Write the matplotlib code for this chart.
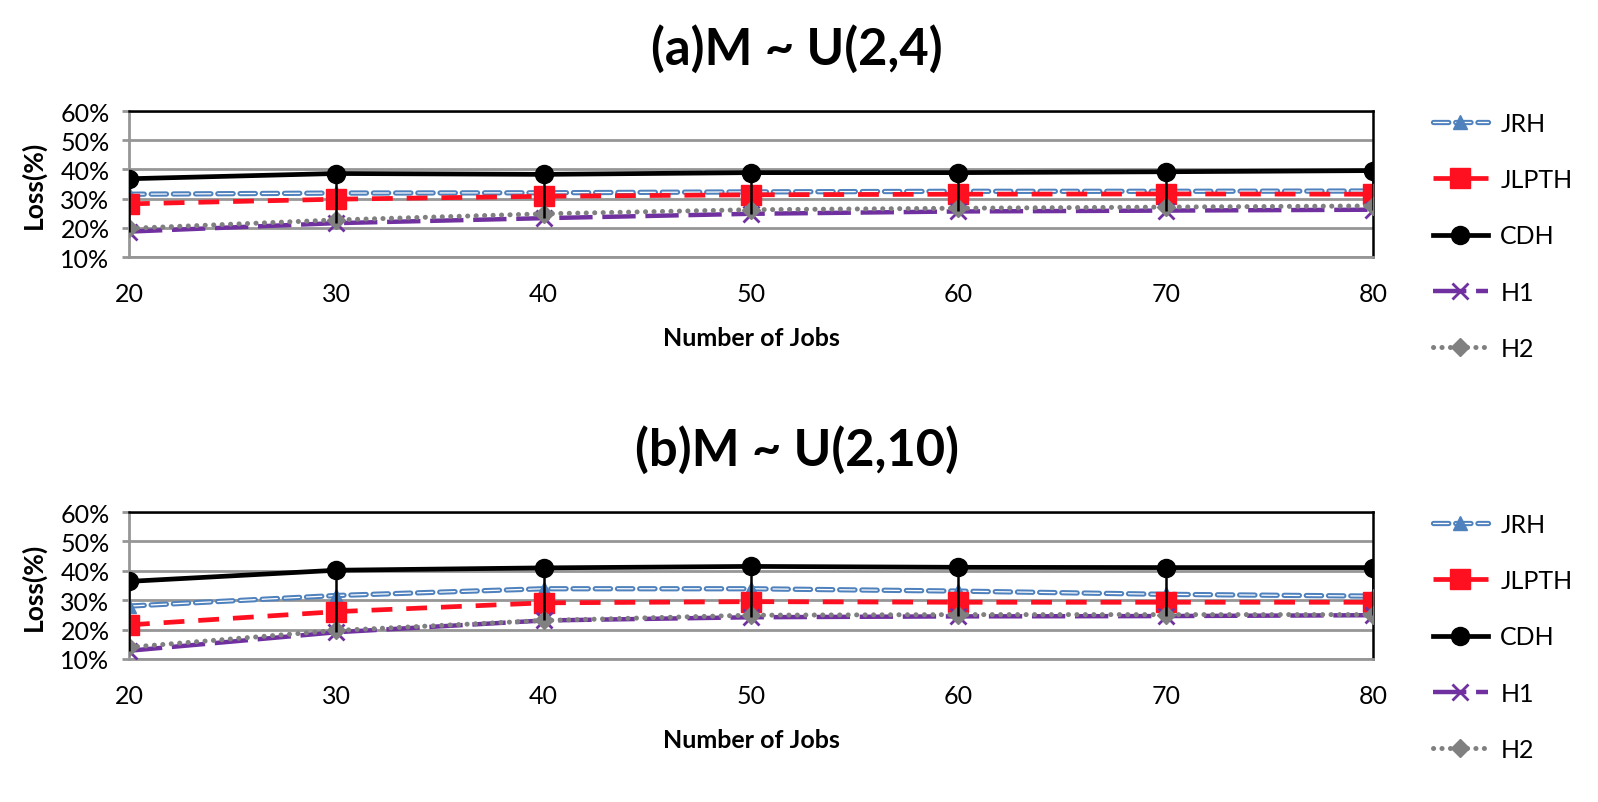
import numpy as np
import matplotlib
matplotlib.use('Agg')
import matplotlib.pyplot as plt
from matplotlib.legend_handler import HandlerTuple

plt.rcParams['font.family'] = ['Lato', 'DejaVu Sans']
plt.rcParams['lines.scale_dashes'] = False

# data (loss in %)
jobs = [20, 30, 40, 50, 60, 70, 80]
names = ['JRH', 'JLPTH', 'CDH', 'H1', 'H2']

a_jrh = [31.5, 31.9, 32.0, 32.3, 32.5, 32.5, 32.6]
a_jlpth = [28.2, 29.8, 30.8, 31.3, 31.5, 31.6, 31.5]
a_cdh = [36.8, 38.6, 38.3, 38.9, 38.9, 39.2, 39.6]
a_h1 = [18.7, 21.6, 23.3, 24.8, 25.6, 25.9, 26.2]
a_h2 = [19.8, 22.7, 24.8, 26.2, 26.7, 27.1, 27.5]

b_jrh = [28.0, 31.6, 33.9, 33.9, 33.1, 32.0, 31.4]
b_jlpth = [21.6, 26.1, 29.1, 29.5, 29.3, 29.3, 29.3]
b_cdh = [36.4, 40.2, 41.0, 41.5, 41.2, 41.1, 41.1]
b_h1 = [12.8, 19.1, 23.1, 24.2, 24.5, 24.6, 24.9]
b_h2 = [14.0, 19.7, 23.1, 24.9, 25.1, 25.1, 25.1]

yticks = [10, 20, 30, 40, 50, 60]

BLUE = '#4F81BD'
RED = '#FF1020'
PURPLE = '#7030A0'
GRAY = '#808080'
GRID = '#969696'


def draw_panel(ax, title, jrh, jlpth, cdh, h1, h2):
    x = np.array(jobs)
    # JRH: blue dashed line with a thin white core
    l1a, = ax.plot(x, jrh, color=BLUE, lw=3.8, dashes=(11, 5), dash_capstyle='round', zorder=3)
    l1b, = ax.plot(x, jrh, color='white', lw=0.9, dashes=(11, 5), dash_capstyle='round', zorder=3.1)
    l1c, = ax.plot(x, jrh, ls='none', marker='^', ms=10, color=BLUE, zorder=3.2)
    l2, = ax.plot(x, jlpth, color=RED, lw=3.4, dashes=(15, 10), marker='s', ms=14,
                  mec=RED, zorder=4)
    l3, = ax.plot(x, cdh, color='black', lw=3.4, marker='o', ms=13, zorder=5)
    l4, = ax.plot(x, h1, color=PURPLE, lw=3.2, dashes=(24, 7), marker='x', ms=11,
                  mew=2, zorder=6)
    l5, = ax.plot(x, h2, color=GRAY, lw=3.6, dashes=(0.1, 6), dash_capstyle='round',
                  marker='D', ms=9, zorder=7)

    # high-low lines
    allv = np.array([jrh, jlpth, cdh, h1, h2])
    ax.vlines(x, allv.min(axis=0), allv.max(axis=0), color='black', lw=1.8, zorder=8)

    ax.set_xlim(20, 80)
    ax.set_ylim(10, 60)
    ax.set_xticks(jobs)
    ax.set_yticks(yticks)
    ax.set_yticklabels(['%d%%' % v for v in yticks])
    ax.grid(axis='y', color=GRID, lw=2)
    ax.set_axisbelow(True)
    ax.tick_params(axis='y', length=5, width=2, color=GRID, pad=9, labelsize=18)
    ax.tick_params(axis='x', length=0, pad=18, labelsize=18)
    for s in ['left', 'bottom']:
        ax.spines[s].set_color(GRID)
        ax.spines[s].set_linewidth(2)
    for s in ['top', 'right']:
        ax.spines[s].set_color('black')
        ax.spines[s].set_linewidth(1.8)
    ax.set_xlabel('Number of Jobs', fontsize=18, fontweight='bold', labelpad=15)
    ax.set_title(title, fontsize=36.5, fontweight='bold', pad=34, x=0.537)

    handles = [(l1a, l1b, l1c), l2, l3, l4, l5]
    ax.legend(handles, names, loc='upper left', bbox_to_anchor=(1.03, 1.148),
              frameon=False, fontsize=18, handlelength=2.2, handletextpad=0.5,
              labelspacing=1.33, numpoints=1,
              handler_map={tuple: HandlerTuple(ndivide=1)})


fig = plt.figure(figsize=(15.98, 8.03), dpi=100)
ax1 = fig.add_axes([0.0807, 0.6787, 0.7785, 0.1818])
ax2 = fig.add_axes([0.0807, 0.1781, 0.7785, 0.1830])

draw_panel(ax1, '(a)M ~ U(2,4)', a_jrh, a_jlpth, a_cdh, a_h1, a_h2)
draw_panel(ax2, '(b)M ~ U(2,10)', b_jrh, b_jlpth, b_cdh, b_h1, b_h2)

fig.text(0.0205, 0.7696, 'Loss(%)', rotation=90, ha='center', va='center',
         fontsize=19, fontweight='bold')
fig.text(0.0205, 0.2692, 'Loss(%)', rotation=90, ha='center', va='center',
         fontsize=19, fontweight='bold')

fig.savefig('out.png', dpi=100)
